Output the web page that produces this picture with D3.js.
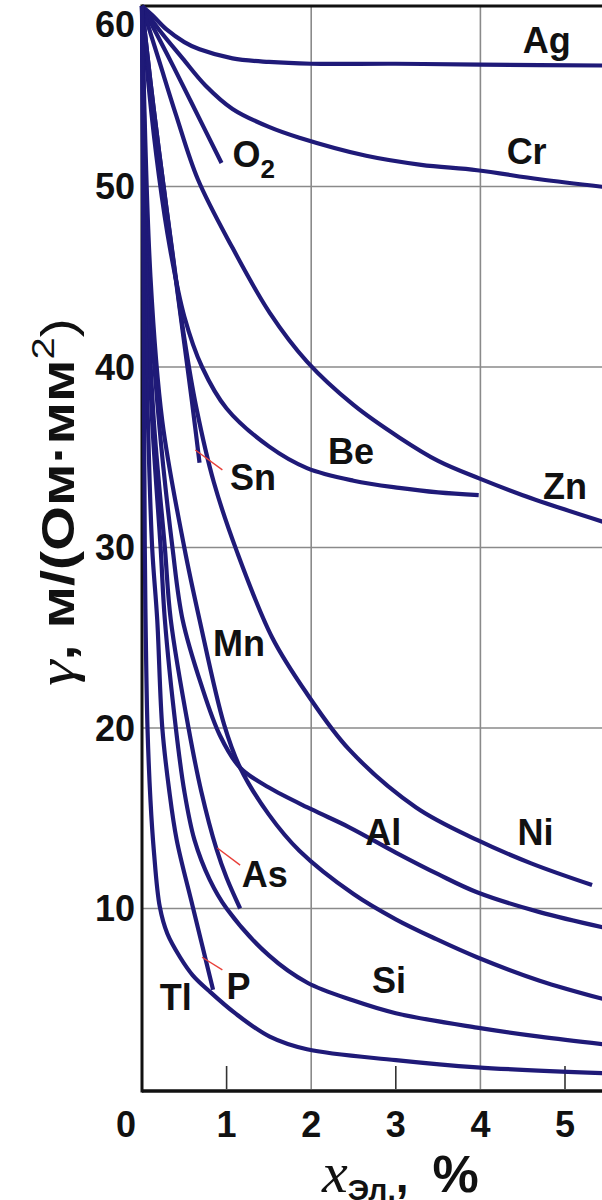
<!DOCTYPE html>
<html>
<head>
<meta charset="utf-8">
<script src="https://cdn.jsdelivr.net/npm/d3@7"></script>
<style>
body { margin: 0; background: #fff; }
svg { display: block; }
</style>
</head>
<body>
<script>
var W = 602, H = 1200;

// axis ticks and grid
var xTicks = [0, 1, 2, 3, 4, 5];
var yTicks = [10, 20, 30, 40, 50, 60];
var xGrid = [2, 4, 6];
var xShort = [1, 3, 5];
var yGrid = [10, 20, 30, 40, 50];

// curves: [x %, gamma]
var ag = [[0,60],[0.12,59.5],[0.29,58.7],[0.5,58.0],[0.68,57.6],[1.07,57.1],[1.5,56.9],[2,56.8],[3,56.8],[4,56.75],[5.6,56.7]];
var cr = [[0,60],[0.2,58.7],[0.48,57.1],[0.75,55.6],[1.07,54.3],[1.5,53.3],[1.86,52.7],[2.65,51.7],[3.3,51.2],[3.96,50.9],[4.7,50.4],[5.6,49.9]];
var o2 = [[0,60],[0.3,57.3],[0.6,54.5],[0.94,51.3]];
var zn = [[0,60],[0.2,57.0],[0.4,54.0],[0.66,50.4],[1.07,46.6],[1.51,43.0],[1.95,40.3],[2.5,37.9],[3.04,36.1],[3.5,34.8],[4,33.8],[4.5,32.9],[5,32.1],[5.6,31.2]];
var be = [[0,60],[0.08,55.5],[0.2,50.6],[0.33,46.6],[0.5,42.8],[0.71,40],[1.0,37.7],[1.5,35.6],[1.95,34.4],[2.5,33.7],[3.04,33.3],[3.5,33.05],[3.98,32.9]];
var sn = [[0,60],[0.1,55.8],[0.2,52],[0.37,45.9],[0.5,41.3],[0.59,38.1],[0.68,34.7]];
var ni = [[0,60],[0.1,55.8],[0.2,52.0],[0.37,46.0],[0.5,41.6],[0.64,37.8],[0.85,33.6],[1.12,29.8],[1.54,25.0],[1.95,21.9],[2.45,18.8],[3.24,15.6],[3.96,13.8],[4.6,12.5],[5.32,11.3]];
var mn = [[0,60],[0.1,45],[0.24,37],[0.5,30],[0.68,26],[0.97,20.2],[1.16,17.8],[1.5,15.2],[1.86,13.2],[2.5,10.8],[3,9.4],[3.48,8.3],[3.96,7.3],[4.7,6.0],[5.6,4.8]];
var al = [[0,60],[0.08,45],[0.2,37],[0.36,30],[0.48,26],[0.7,22.4],[0.92,19.6],[1.16,17.8],[1.5,16.7],[2,15.5],[2.45,14.5],[3,13.1],[3.5,11.9],[3.96,10.9],[4.7,9.8],[5.6,8.8]];
var as = [[0,60],[0.06,45],[0.14,37],[0.27,30],[0.34,26],[0.55,20],[0.7,16.5],[0.88,13.3],[1.0,11.7],[1.16,10.0]];
var si = [[0,60],[0.05,45],[0.12,37],[0.22,30],[0.27,26],[0.4,20],[0.5,16.5],[0.62,13.8],[0.8,11.6],[1.0,10.0],[1.5,7.4],[1.95,5.9],[2.5,4.9],[3,4.2],[3.96,3.4],[4.7,2.9],[5.6,2.4]];
var p = [[0,60],[0.03,45],[0.07,37],[0.12,30],[0.18,26],[0.24,20],[0.32,16.6],[0.41,13.8],[0.6,10.1],[0.84,5.5]];
var tl = [[0,60],[0.012,50],[0.022,40],[0.033,30],[0.045,25],[0.065,20],[0.1,16],[0.14,13.2],[0.21,10.1],[0.3,8.6],[0.45,7.3],[0.6,6.3],[0.8,5.4],[1.1,4.2],[1.51,2.9],[1.95,2.2],[3,1.6],[3.96,1.2],[5.6,0.85]];

var curves = [ag, cr, o2, zn, be, sn, ni, mn, al, as, si, p, tl];

// curve labels: text, x, y (data units)
var labelText = ["Ag", "Cr", "O", "Be", "Sn", "Zn", "Mn", "Al", "Ni", "As", "Si", "P", "Tl"];
var labelX = [4.5, 4.31, 1.07, 2.2, 1.04, 4.74, 0.84, 2.64, 4.44, 1.18, 2.72, 1.0, 0.21];
var labelY = [57.4, 51.25, 51.1, 34.6, 33.2, 32.7, 24.0, 13.5, 13.5, 11.2, 5.3, 5.0, 4.4];

// red leader lines: x1, y1, x2, y2 (data units)
var leaders = [[0.63, 35.4, 0.95, 34.3], [0.89, 13.35, 1.16, 12.4], [0.71, 7.3, 0.95, 6.6]];

var lineColor = "#1f1a78";

var svg = d3.select("body").append("svg").attr("width", W).attr("height", H);

var x = d3.scaleLinear().domain([0, 5]).range([142, 565]);
var y = d3.scaleLinear().domain([0, 60]).range([1089, 6]);

// grid
svg.selectAll(".gx").data(xGrid).enter().append("line")
    .attr("x1", function(d) { return x(d); }).attr("x2", function(d) { return x(d); })
    .attr("y1", y(60)).attr("y2", y(0))
    .attr("stroke", "#8a8a8a").attr("stroke-width", 1.6);
svg.selectAll(".gy").data(yGrid).enter().append("line")
    .attr("x1", x(0)).attr("x2", W + 60)
    .attr("y1", function(d) { return y(d); }).attr("y2", function(d) { return y(d); })
    .attr("stroke", "#8a8a8a").attr("stroke-width", 1.6);
svg.selectAll(".sx").data(xShort).enter().append("line")
    .attr("x1", function(d) { return x(d); }).attr("x2", function(d) { return x(d); })
    .attr("y1", y(0) - 23).attr("y2", y(0))
    .attr("stroke", "#333").attr("stroke-width", 1.6);

// frame
svg.append("line").attr("x1", x(0)).attr("x2", W + 60).attr("y1", y(60)).attr("y2", y(60))
    .attr("stroke", "#111").attr("stroke-width", 3);
svg.append("line").attr("x1", x(0)).attr("x2", W + 60).attr("y1", y(0) + 2).attr("y2", y(0) + 2)
    .attr("stroke", "#111").attr("stroke-width", 3.5);
svg.append("line").attr("x1", x(0)).attr("x2", x(0)).attr("y1", y(60) - 1.5).attr("y2", y(0) + 3.5)
    .attr("stroke", "#111").attr("stroke-width", 3);

// curves
var line = d3.line()
    .x(function(d) { return x(d[0]); })
    .y(function(d) { return y(d[1]); })
    .curve(d3.curveCatmullRom.alpha(0.5));

svg.selectAll(".curve").data(curves).enter().append("path")
    .attr("d", line)
    .attr("fill", "none")
    .attr("stroke", lineColor)
    .attr("stroke-width", 4.2)
    .attr("stroke-linecap", "butt");

// leaders
svg.selectAll(".lead").data(leaders).enter().append("line")
    .attr("x1", function(d) { return x(d[0]); }).attr("y1", function(d) { return y(d[1]); })
    .attr("x2", function(d) { return x(d[2]); }).attr("y2", function(d) { return y(d[3]); })
    .attr("stroke", "#e8403a").attr("stroke-width", 1.4);

// labels
var lab = svg.selectAll(".lab").data(labelText).enter().append("text")
    .attr("x", function(d, i) { return x(labelX[i]); })
    .attr("y", function(d, i) { return y(labelY[i]); })
    .attr("font-family", "Liberation Sans, Arial, sans-serif")
    .attr("font-weight", "bold")
    .attr("font-size", 36)
    .attr("fill", "#111")
    .text(function(d) { return d; });
lab.filter(function(d) { return d === "O"; }).append("tspan")
    .attr("dy", 11).attr("font-size", 26).text("2");

// y tick labels
svg.selectAll(".yt").data(yTicks).enter().append("text")
    .attr("x", x(0) - 7)
    .attr("y", function(d) { return y(d) + (d === 60 ? 18 : 0); })
    .attr("dy", "0.36em")
    .attr("text-anchor", "end")
    .attr("font-family", "Liberation Sans, Arial, sans-serif")
    .attr("font-weight", "bold")
    .attr("font-size", 36)
    .attr("fill", "#111")
    .text(function(d) { return d; });

// x tick labels
svg.selectAll(".xt").data(xTicks).enter().append("text")
    .attr("x", function(d) { return x(d) - (d === 0 ? 16 : 0); })
    .attr("y", y(0) + 48)
    .attr("text-anchor", "middle")
    .attr("font-family", "Liberation Sans, Arial, sans-serif")
    .attr("font-weight", "bold")
    .attr("font-size", 36)
    .attr("fill", "#111")
    .text(function(d) { return d; });

// y title
var yt = svg.append("text")
    .attr("transform", "translate(74,502) rotate(-90) scale(1.25,1)")
    .attr("text-anchor", "middle")
    .attr("font-family", "Liberation Sans, Arial, sans-serif")
    .attr("font-weight", "bold")
    .attr("font-size", 46)
    .attr("fill", "#111");
yt.append("tspan").attr("font-family", "Liberation Serif, serif").attr("font-style", "italic")
    .attr("font-weight", "normal").attr("font-size", 52).text("γ");
yt.append("tspan").text(", м/(Ом·мм");
yt.append("tspan").attr("font-weight", "normal").attr("font-size", 32).attr("dy", -20).text("2");
yt.append("tspan").attr("font-weight", "normal").attr("dy", 20).text(")");

// x title
var xt = svg.append("text")
    .attr("x", 322).attr("y", 1192)
    .attr("font-family", "Liberation Sans, Arial, sans-serif")
    .attr("font-weight", "bold")
    .attr("font-size", 46)
    .attr("fill", "#111");
xt.append("tspan").attr("font-family", "Liberation Serif, serif").attr("font-style", "italic")
    .attr("font-weight", "normal").attr("font-size", 58).text("x");
xt.append("tspan").attr("font-size", 30).attr("dy", 8).text("Эл.");
xt.append("tspan").attr("dy", -8).text(",");
xt.append("tspan").attr("dx", 24).attr("font-size", 52).text("%");
</script>
</body>
</html>
